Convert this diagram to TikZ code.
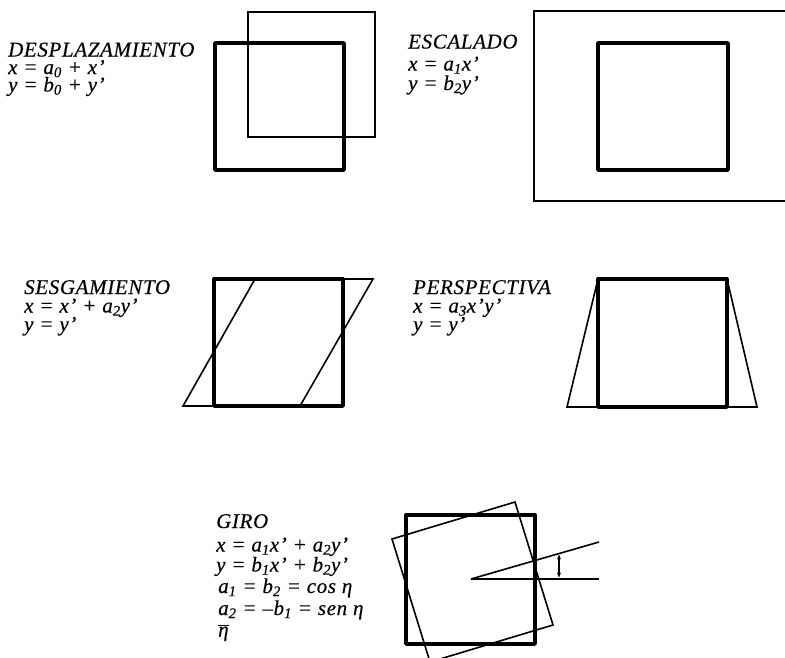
\documentclass[tikz,border=0pt]{standalone}
\usepackage{fontspec}
\setmainfont{Liberation Serif}
\usetikzlibrary{arrows.meta}
\newcommand\subidx[1]{\textsubscript{#1}}
\tikzset{
  lbl/.style={anchor=base west, inner sep=0pt, font=\fontsize{21}{23}\selectfont\itshape\addfontfeature{LetterSpace=3,FakeBold=0.3}},
  thickbox/.style={line width=3.4pt, line join=round},
  thinbox/.style={line width=1.6pt, line join=miter},
}
\begin{document}
\begin{tikzpicture}[x=1pt,y=-1pt]
\useasboundingbox (0,0) rectangle (785,657);
\clip (0,0) rectangle (785,657);
% DESPLAZAMIENTO
\node[lbl] (t1) at (8,56.5) {DESPLAZAMIENTO};
\node[lbl] (t1a) at (8,74) {x = a\subidx{0} + x'};
\node[lbl] (t1b) at (8,91.5) {y = b\subidx{0} + y'};
\draw[thinbox] (248,12) rectangle (375,137);
\draw[thickbox] (215,43) rectangle (344,170);
% ESCALADO
\node[lbl] (t2) at (408,48.5) {ESCALADO};
\node[lbl] (t2a) at (408,70.5) {x = a\subidx{1}x'};
\node[lbl] (t2b) at (408,90) {y = b\subidx{2}y'};
\draw[thinbox] (534,11) rectangle (800,201);
\draw[thickbox] (598,43) rectangle (728,170);
% SESGAMIENTO
\node[lbl] (t3) at (24,294) {SESGAMIENTO};
\node[lbl] (t3a) at (24,312.5) {x = x' + a\subidx{2}y'};
\node[lbl] (t3b) at (24,331) {y = y'};
\draw[thinbox] (255,279) -- (373,279) -- (300,406) -- (183,406) -- cycle;
\draw[thickbox] (214,279) rectangle (343,406);
% PERSPECTIVA
\node[lbl] (t4) at (413,294) {PERSPECTIVA};
\node[lbl] (t4a) at (413,312.5) {x = a\subidx{3}x'y'};
\node[lbl] (t4b) at (413,331) {y = y'};
\draw[thinbox] (598,279) -- (727,279) -- (757,407) -- (567,407) -- cycle;
\draw[thickbox] (598,279) rectangle (727,407);
% GIRO
\node[lbl] (t5) at (216,528) {GIRO};
\node[lbl] (t5a) at (216,551.5) {x = a\subidx{1}x' + a\subidx{2}y'};
\node[lbl] (t5b) at (216,571.5) {y = b\subidx{1}x' + b\subidx{2}y'};
\node[lbl] (t5c) at (218,593) {a\subidx{1} = b\subidx{2} = cos η};
\node[lbl] (t5d) at (218,615) {a\subidx{2} = –b\subidx{1} = sen η};
\node[lbl] (t5e) at (218,636.5) {$\overline{\mbox{η}}$};
\draw[thinbox] (392,539) -- (515,502) -- (553,625) -- (430,662) -- cycle;
\draw[thickbox] (406,515) rectangle (535,644);
\coordinate (o) at (471,579);
\coordinate (h) at (599,579);
\coordinate (r) at (599,542);
\draw[line width=2.8pt] (o) -- (h);
\draw[line width=1.6pt] (o) -- (r);
\coordinate (aa) at (559,577.5);
\coordinate (ab) at (559,554.5);
\draw[line width=1.4pt, {Stealth[length=5pt,width=4pt]}-{Stealth[length=5pt,width=4pt]}] (aa) -- (ab);
\end{tikzpicture}
\end{document}
